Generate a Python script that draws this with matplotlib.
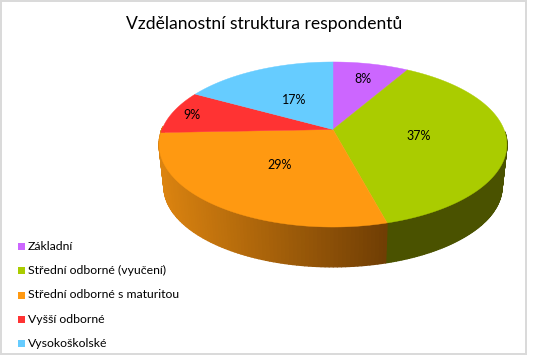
import numpy as np
import matplotlib
matplotlib.use("Agg")
import matplotlib.pyplot as plt
from matplotlib.patches import Polygon, Rectangle
from matplotlib.collections import PolyCollection

title = "Vzdělanostní struktura respondentů"
categories = ["Základní", "Střední odborné (vyučení)", "Střední odborné s maturitou", "Vyšší odborné", "Vysokoškolské"]
values = [8.4, 37.4, 28.6, 8.6, 17.0]
colors = ["#CC66FF", "#AACC00", "#FF9911", "#FF3333", "#66CCFF"]
side_dark = "#4A5200"

W, H = 544, 355
fig = plt.figure(figsize=(W / 100, H / 100), dpi=100)
ax = fig.add_axes([0, 0, 1, 1])
ax.set_xlim(0, W)
ax.set_ylim(H, 0)
ax.axis("off")
px = 72 / 100
FONT = "Lato"

# Perspective projection of the disc
CX, CY, A, B, K = 333, 129.5, 171, 79.8, 0.1818
DEPTH, SHRINK = 40.5, 0.972


def project(theta, bottom=False):
    d = 1 + K * np.cos(theta)
    s = SHRINK if bottom else 1.0
    x = CX + s * A * np.sin(theta) / d
    y = CY - s * B * np.cos(theta) / d
    if bottom:
        y = y + DEPTH + (1 - s) * B * 0.9
    return x, y


# Frame
ax.add_patch(Rectangle((1, 0.5), 524.5, 353.3, fc="white", ec="#D9D9D9", lw=1.4))

total = sum(values)
edges = np.cumsum([0] + values) / total * 2 * np.pi

# Side walls (front-facing part only)
for i, c in enumerate(colors):
    t0, t1 = max(edges[i], np.pi / 2 + 0.03), min(edges[i + 1], 3 * np.pi / 2 + 0.03)
    if t1 <= t0:
        continue
    ts = np.linspace(t0, t1, 90)
    xt, yt = project(ts)
    xb, yb = project(ts, True)
    polys, cols = [], []
    for j in range(len(ts) - 1):
        polys.append([(xt[j], yt[j]), (xt[j + 1], yt[j + 1]), (xb[j + 1], yb[j + 1]), (xb[j], yb[j])])
        if c == colors[1]:
            cols.append(side_dark)
        else:
            f = (xt[j] - 158) / (388 - 158)
            l = np.array([0xDC, 0x84, 0x10]) * (1 - f) + np.array([0x70, 0x3E, 0x04]) * f
            cols.append(l / 255)
    ax.add_collection(PolyCollection(polys, facecolors=cols, edgecolors=cols, linewidths=1.0, zorder=2))

# Top face
for i, c in enumerate(colors):
    ts = np.linspace(edges[i], edges[i + 1], 120)
    x, y = project(ts)
    ax.add_patch(Polygon(np.r_[[[CX, CY]], np.c_[x, y]], closed=True, fc=c, ec=c, lw=0.3, zorder=3))

# Percent labels
label_r = [0.77, 0.5, 0.49, 0.88, 0.48]
for i, v in enumerate(values):
    t = (edges[i] + edges[i + 1]) / 2
    d = 1 + K * np.cos(t) * label_r[i]
    lx = CX + A * label_r[i] * np.sin(t) / d
    ly = CY - B * label_r[i] * np.cos(t) / d
    ax.text(lx, ly + 1.5, f"{round(v)}%", ha="center", va="center", fontsize=12.5 * px, color="black",
            family=FONT, zorder=5)

ax.text(264.5, 24.5, title, ha="center", va="center", fontsize=17.5 * px, color="black", family=FONT)

# Legend
leg_y = np.linspace(246.7, 343.3, len(categories))
for yy, c, name in zip(leg_y, colors, categories):
    ax.add_patch(Rectangle((18, yy - 3.5), 7, 7, fc=c, ec="none"))
    ax.text(28, yy, name, ha="left", va="center", fontsize=12.3 * px, color="black", family=FONT)

fig.savefig("out.png", dpi=100)
